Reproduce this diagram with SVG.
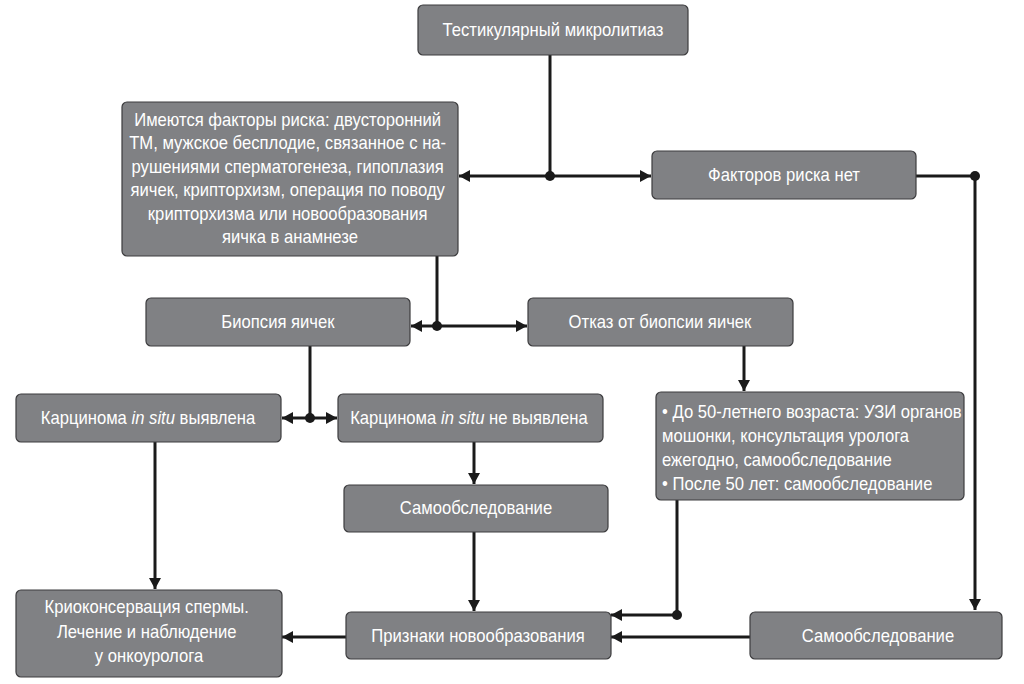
<svg xmlns="http://www.w3.org/2000/svg" width="1024" height="684" viewBox="0 0 1024 684">
<style>
.box{fill:#808184;stroke:#3c3c3e;stroke-width:1.2}
.t{font-family:"Liberation Sans",Arial,sans-serif;font-size:18px;fill:#ffffff}
.c{text-anchor:middle}
.ln{fill:none;stroke:#1a1a1a;stroke-width:3}
.dot{fill:#1a1a1a}
</style>
<defs>
<marker id="ah" markerUnits="userSpaceOnUse" markerWidth="11" markerHeight="12" refX="11" refY="6" orient="auto">
<path d="M0,0 L11,6 L0,12 z" fill="#1a1a1a"/>
</marker>
</defs>
<rect width="1024" height="684" fill="#ffffff"/>

<g id="connectors">
<path class="ln" d="M550,55 V176"/>
<path class="ln" d="M550,176 H459" marker-end="url(#ah)"/>
<path class="ln" d="M550,176 H651" marker-end="url(#ah)"/>
<circle class="dot" cx="550" cy="176" r="5"/>
<path class="ln" d="M916,176 H975 V610" marker-end="url(#ah)"/>
<circle class="dot" cx="975" cy="176" r="5"/>
<path class="ln" d="M437,256 V326"/>
<path class="ln" d="M437,326 H411" marker-end="url(#ah)"/>
<path class="ln" d="M437,326 H527" marker-end="url(#ah)"/>
<circle class="dot" cx="437" cy="326" r="5"/>
<path class="ln" d="M744,346 V391" marker-end="url(#ah)"/>
<path class="ln" d="M310,346 V418"/>
<path class="ln" d="M310,418 H282" marker-end="url(#ah)"/>
<path class="ln" d="M310,418 H337" marker-end="url(#ah)"/>
<circle class="dot" cx="310" cy="418" r="5"/>
<path class="ln" d="M155,442 V589" marker-end="url(#ah)"/>
<path class="ln" d="M474,442 V484" marker-end="url(#ah)"/>
<path class="ln" d="M474,532 V611" marker-end="url(#ah)"/>
<path class="ln" d="M677,500 V615 H611" marker-end="url(#ah)"/>
<circle class="dot" cx="677" cy="615" r="5"/>
<path class="ln" d="M750,637 H611" marker-end="url(#ah)"/>
<path class="ln" d="M346,637 H282" marker-end="url(#ah)"/>
</g>

<g id="n1">
<rect class="box" x="418" y="5" width="270" height="50" rx="5"/>
<text class="t c" transform="scale(0.925 1)" x="597.8" y="36">Тестикулярный микролитиаз</text>
</g>

<g id="n2">
<rect class="box" x="122" y="102" width="336" height="154" rx="5"/>
<text class="t c" transform="scale(0.925 1)">
<tspan x="313.5" y="126">Имеются факторы риска: двусторонний</tspan>
<tspan x="313.5" y="149.4">ТМ, мужское бесплодие, связанное с на-</tspan>
<tspan x="313.5" y="172.8">рушениями сперматогенеза, гипоплазия</tspan>
<tspan x="313.5" y="196.2">яичек, крипторхизм, операция по поводу</tspan>
<tspan x="313.5" y="219.6">крипторхизма или новообразования</tspan>
<tspan x="313.5" y="243">яичка в анамнезе</tspan>
</text>
</g>

<g id="n3">
<rect class="box" x="652" y="151" width="264" height="48" rx="5"/>
<text class="t c" transform="scale(0.925 1)" x="847.6" y="181">Факторов риска нет</text>
</g>

<g id="n4">
<rect class="box" x="146" y="298" width="264" height="48" rx="5"/>
<text class="t c" transform="scale(0.925 1)" x="300.5" y="328">Биопсия яичек</text>
</g>

<g id="n5">
<rect class="box" x="528" y="298" width="265" height="48" rx="5"/>
<text class="t c" transform="scale(0.925 1)" x="713.5" y="328">Отказ от биопсии яичек</text>
</g>

<g id="n6">
<rect class="box" x="16" y="394" width="265" height="48" rx="5"/>
<text class="t c" transform="scale(0.925 1)" x="160" y="424">Карцинома <tspan font-style="italic">in situ</tspan> выявлена</text>
</g>

<g id="n7">
<rect class="box" x="338" y="394" width="265" height="48" rx="5"/>
<text class="t c" transform="scale(0.925 1)" x="507" y="424">Карцинома <tspan font-style="italic">in situ</tspan> не выявлена</text>
</g>

<g id="n8">
<rect class="box" x="656" y="392" width="308" height="108" rx="5"/>
<text class="t" transform="scale(0.925 1)">
<tspan x="715.7" y="418">• До 50-летнего возраста: УЗИ органов</tspan>
<tspan x="715.7" y="442">мошонки, консультация уролога</tspan>
<tspan x="715.7" y="466">ежегодно, самообследование</tspan>
<tspan x="715.7" y="490">• После 50 лет: самообследование</tspan>
</text>
</g>

<g id="n9">
<rect class="box" x="344" y="485" width="264" height="47" rx="5"/>
<text class="t c" transform="scale(0.925 1)" x="514.6" y="514">Самообследование</text>
</g>

<g id="n10">
<rect class="box" x="16" y="590" width="266" height="87" rx="5"/>
<text class="t c" transform="scale(0.925 1)">
<tspan x="161.1" y="613">Криоконсервация спермы.</tspan>
<tspan x="161.1" y="638">Лечение и наблюдение</tspan>
<tspan x="161.1" y="662">у онкоуролога</tspan>
</text>
</g>

<g id="n11">
<rect class="box" x="346" y="612" width="265" height="47" rx="5"/>
<text class="t c" transform="scale(0.925 1)" x="516.8" y="642">Признаки новообразования</text>
</g>

<g id="n12">
<rect class="box" x="750" y="612" width="252" height="47" rx="5"/>
<text class="t c" transform="scale(0.925 1)" x="949.2" y="642">Самообследование</text>
</g>
</svg>
